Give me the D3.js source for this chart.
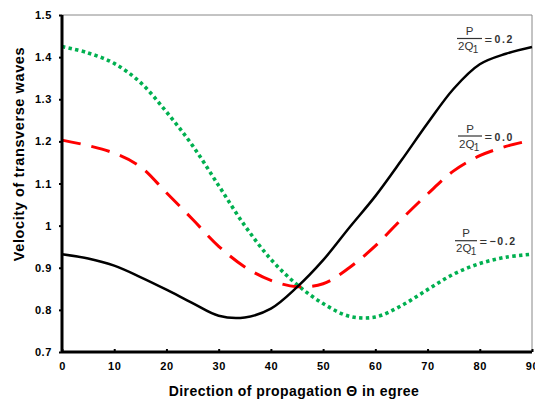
<!DOCTYPE html>
<html><head><meta charset="utf-8">
<script src="https://cdn.jsdelivr.net/npm/d3@7"></script>
<style>body{margin:0;background:#fff}svg{display:block}</style>
</head><body>
<svg id="c" width="535" height="403"></svg>
<script>
const angles = [0,5,10,15,20,25,30,35,40,45,50,55,60,65,70,75,80,85,90];
const seriesPos = [0.932,0.922,0.905,0.878,0.848,0.816,0.786,0.782,0.803,0.854,0.918,0.995,1.07,1.155,1.243,1.325,1.383,1.408,1.424];
const seriesZero = [1.203,1.19,1.172,1.14,1.078,1.015,0.951,0.902,0.87,0.855,0.862,0.9,0.952,1.015,1.075,1.13,1.166,1.188,1.203];
const seriesNeg = [1.425,1.41,1.385,1.34,1.27,1.19,1.095,1.0,0.92,0.86,0.815,0.785,0.783,0.81,0.848,0.885,0.91,0.925,0.932];
const xTicks = [0,10,20,30,40,50,60,70,80,90];
const yTicks = [0.7,0.8,0.9,1.0,1.1,1.2,1.3,1.4,1.5];
const labelValues = ["0.2","0.0","\u22120.2"];

const W=535,H=403,m={l:62,r:3,t:15,b:51};
const svg=d3.select("#c");
const x=d3.scaleLinear().domain([0,90]).range([m.l,W-m.r]);
const y=d3.scaleLinear().domain([0.7,1.5]).range([H-m.b,m.t]);

svg.append("line").attr("x1",x(0)).attr("x2",x(90)).attr("y1",y(1.5)).attr("y2",y(1.5)).attr("stroke","#888").attr("stroke-width",1);
svg.append("line").attr("x1",x(90)).attr("x2",x(90)).attr("y1",y(1.5)).attr("y2",y(0.7)).attr("stroke","#888").attr("stroke-width",1);

const line=d3.line().x((d,i)=>x(angles[i])).y(d=>y(d)).curve(d3.curveCatmullRom.alpha(0.5));
svg.append("path").attr("d",line(seriesNeg)).attr("fill","none").attr("stroke","#00b050").attr("stroke-width",3.6).attr("stroke-dasharray","3.4,3.3");
svg.append("path").attr("d",line(seriesZero)).attr("fill","none").attr("stroke","#ff0000").attr("stroke-width",3).attr("stroke-dasharray","19,11");
svg.append("path").attr("d",line(seriesPos)).attr("fill","none").attr("stroke","#000").attr("stroke-width",2.5);

const font="Liberation Sans, Arial, sans-serif";
const yAxis=svg.append("g").attr("transform",`translate(${m.l},0)`)
  .call(d3.axisLeft(y).tickValues(yTicks).tickSize(3).tickPadding(7).tickFormat(d=>d===1?"1":d3.format(".1f")(d)));
const xAxis=svg.append("g").attr("transform",`translate(0,${H-m.b})`)
  .call(d3.axisBottom(x).tickValues(xTicks).tickSize(-3).tickPadding(10).tickFormat(d3.format("d")));
[yAxis,xAxis].forEach(g=>{
  g.select(".domain").attr("stroke","#000").attr("stroke-width",3);
  g.selectAll(".tick line").attr("stroke","#000").attr("stroke-width",2);
  g.selectAll("text").attr("font-family",font).attr("font-weight","bold").attr("font-size",11).attr("letter-spacing","0.6px").attr("fill","#000");
});
yAxis.select(".domain").attr("d",`M0,${y(1.5)}V${y(0.7)}`);
xAxis.select(".domain").attr("d",`M${x(0)},0H${x(90)}`);

svg.append("text").attr("transform",`translate(24,154) rotate(-90)`).attr("text-anchor","middle")
  .attr("font-family",font).attr("font-weight","bold").attr("font-size",14.5).attr("letter-spacing","0.6px").text("Velocity of transverse waves");
svg.append("text").attr("x",294).attr("y",396).attr("text-anchor","middle")
  .attr("font-family",font).attr("font-weight","bold").attr("font-size",14).attr("letter-spacing","0.45px").text("Direction of propagation \u0398 in egree");

// fraction labels
const labelPos=[{x0:457,ly:38.5,w:25},{x0:458,ly:136,w:24},{x0:455,ly:240.7,w:22}];
labelPos.forEach((p,i)=>{
  const g=svg.append("g").attr("font-family",font).attr("fill","#333");
  g.append("text").attr("x",p.x0+p.w/2).attr("y",p.ly-3.3).attr("text-anchor","middle").attr("font-size",11.5).text("P");
  g.append("line").attr("x1",p.x0).attr("x2",p.x0+p.w).attr("y1",p.ly).attr("y2",p.ly).attr("stroke","#333").attr("stroke-width",1.2);
  const t=g.append("text").attr("x",p.x0+1).attr("y",p.ly+11.7).attr("font-size",11.5);
  t.append("tspan").text("2Q");
  t.append("tspan").attr("dx",-0.5).attr("dy",3).attr("font-size",10).text("1");
  g.append("text").attr("x",p.x0+p.w+2.5).attr("y",p.ly+5).attr("font-size",13).text("=");
  g.append("text").attr("x",p.x0+p.w+12.5).attr("y",p.ly+4.5).attr("font-size",10.5).attr("font-weight","bold").attr("letter-spacing","1.6px").text(labelValues[i]);
});
</script>
</body></html>
